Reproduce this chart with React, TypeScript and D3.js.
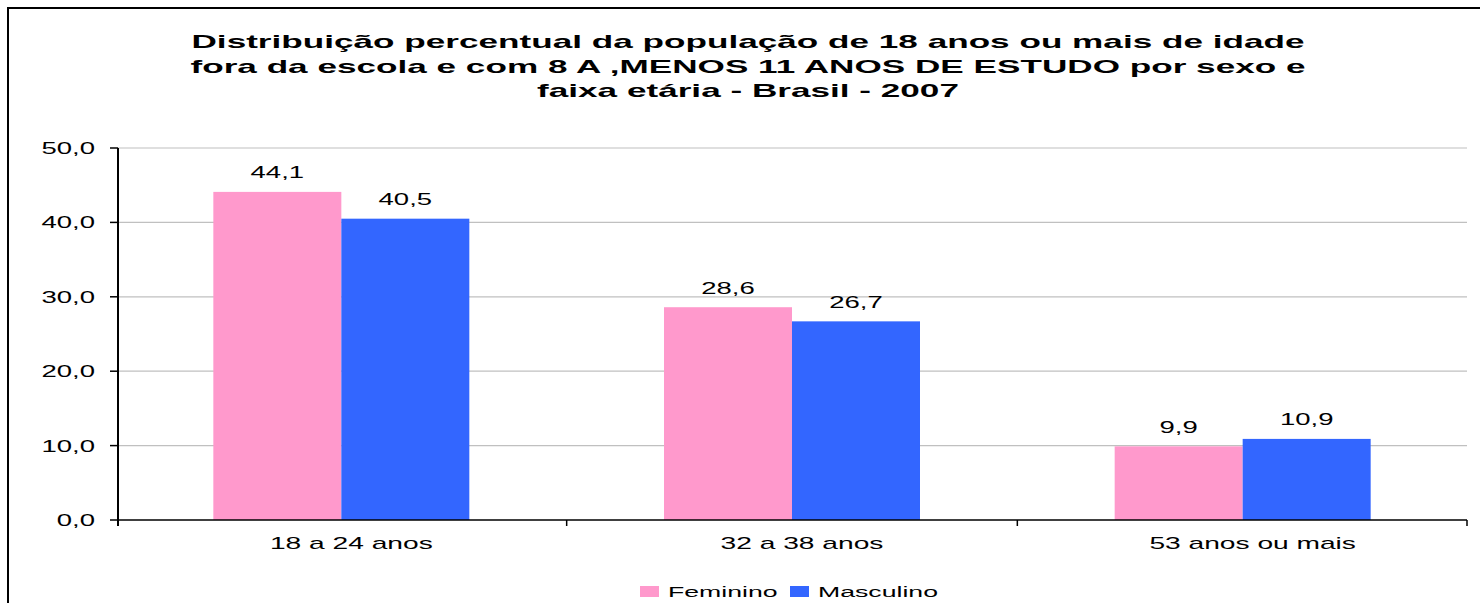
import React from "react";
import * as d3 from "d3";

const categories = ["18 a 24 anos", "32 a 38 anos", "53 anos ou mais"];
const seriesNames = ["Feminino", "Masculino"];
const feminino = [44.1, 28.6, 9.9];
const masculino = [40.5, 26.7, 10.9];
const yTicks = [0, 10, 20, 30, 40, 50];
const colors = ["#FF99CC", "#3366FF"];
const titleLines = [
  "Distribuição percentual da população de 18 anos ou mais de idade",
  "fora da escola e com 8 A ,MENOS 11 ANOS DE ESTUDO por sexo e",
  "faixa etária - Brasil - 2007",
];

const font = "'Liberation Sans', Arial, sans-serif";

function SText({ x, y, sx = 1.72, anchor = "start", size = 16, weight = "normal", children }: any) {
  return (
    <g transform={`translate(${x},${y}) scale(${sx},1)`}>
      <text x={0} y={0} fontSize={size} fontWeight={weight} textAnchor={anchor} fontFamily={font} fill="#000">
        {children}
      </text>
    </g>
  );
}

export default function App() {
  const W = 1480, H = 603;
  const axisX = 118, right = 1467, top = 148, bottom = 520;
  const x = d3.scaleBand<string>().domain(categories).range([116, 1468]).paddingInner(0).paddingOuter(0);
  const y = d3.scaleLinear().domain([0, 50]).range([bottom, top]);
  const barW = 128;
  const series = [feminino, masculino];
  const fmt = (v: number) => v.toFixed(1).replace(".", ",");

  return (
    <svg width={W} height={H} style={{ position: "absolute", left: 0, top: 0, fontFamily: font }}>
      <rect x={0} y={0} width={W} height={H} fill="#fff" />
      <rect x={8} y={8} width={W} height={H + 20} fill="none" stroke="#000" strokeWidth={2} />
      {titleLines.map((t, i) => (
        <SText key={i} x={748} y={48 + i * 24.5} size={18.5} weight="bold" sx={1.9} anchor="middle">{t}</SText>
      ))}
      {yTicks.map((t) => (
        <g key={t}>
          {t > 0 && <line x1={axisX} x2={right} y1={y(t)} y2={y(t)} stroke="#c0c0c0" strokeWidth={1.2} />}
          <line x1={110} x2={axisX} y1={y(t)} y2={y(t)} stroke="#000" strokeWidth={1.5} />
          <SText x={95} y={y(t) + 6} anchor="end">{fmt(t)}</SText>
        </g>
      ))}
      {categories.map((c, ci) =>
        series.map((s, si) => {
          const cx = x(c)! + x.bandwidth() / 2;
          const bx = cx - barW + si * barW;
          return (
            <g key={c + si}>
              <rect x={bx} y={y(s[ci])} width={barW} height={bottom - y(s[ci])} fill={colors[si]} />
              <SText x={bx + barW / 2} y={y(s[ci]) - 13.5} anchor="middle">{fmt(s[ci])}</SText>
            </g>
          );
        })
      )}
      <line x1={axisX} x2={right} y1={bottom} y2={bottom} stroke="#000" strokeWidth={1.5} />
      <line x1={axisX} x2={axisX} y1={top} y2={bottom + 6} stroke="#000" strokeWidth={2} />
      {[...categories.slice(1).map((c) => x(c)!), right].map((px, i) => (
        <line key={i} x1={px} x2={px} y1={bottom} y2={bottom + 6} stroke="#000" strokeWidth={1.5} />
      ))}
      {categories.map((c) => (
        <SText key={c} x={x(c)! + x.bandwidth() / 2 + 10} y={549} anchor="middle" sx={1.76}>{c}</SText>
      ))}
      {seriesNames.map((n, i) => {
        const lx = [640, 790][i];
        return (
          <g key={n}>
            <rect x={lx} y={586} width={19} height={11} fill={colors[i]} />
            <SText x={lx + 28} y={597} size={15.5}>{n}</SText>
          </g>
        );
      })}
    </svg>
  );
}
